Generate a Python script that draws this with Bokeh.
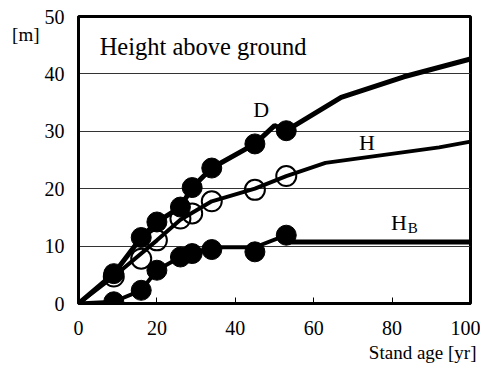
from bokeh.plotting import figure
from bokeh.models import Range1d, FixedTicker, Label, LinearAxis, Title
from bokeh.embed import file_html
from bokeh.resources import INLINE

# observed data
age = [9, 16, 20, 26, 29, 34, 45, 53]
D_obs = [5.2, 11.5, 14.2, 16.8, 20.2, 23.6, 27.8, 30.1]
H_obs = [4.7, 7.8, 11.0, 14.8, 15.7, 17.8, 19.8, 22.2]
HB_obs = [0.3, 2.3, 5.8, 8.1, 8.7, 9.4, 9.0, 11.9]

# curves
D_x = [0, 9, 16, 20, 26, 29, 34, 45, 50, 53, 67, 83, 100]
D_y = [0, 5.2, 11.5, 14.2, 16.8, 20.2, 23.6, 27.8, 31.0, 30.1, 35.9, 39.5, 42.6]
H_x = [0, 9, 20, 26, 34, 45, 53, 63, 92, 100]
H_y = [0, 4.7, 11.0, 14.6, 17.8, 20.0, 22.2, 24.5, 27.2, 28.2]
HB_x = [0, 9, 16, 20, 26, 29, 34, 45, 53]
HB_y = [0, 0.3, 2.3, 5.8, 8.1, 8.7, 9.8, 9.8, 11.9]
HBm_x = [53, 100]
HBm_y = [10.7, 10.7]

x_ticks = [0, 20, 40, 60, 80, 100]
y_ticks = [0, 10, 20, 30, 40, 50]

FONT = "'Liberation Serif'"

p = figure(width=480, height=368, output_backend="svg", toolbar_location=None,
           x_range=Range1d(0, 100), y_range=Range1d(0, 50),
           min_border_left=78, min_border_right=10, min_border_top=16, min_border_bottom=65)
p.background_fill_color = "white"
p.border_fill_color = "white"
p.outline_line_color = "black"
p.outline_line_width = 3

p.xaxis.ticker = FixedTicker(ticks=x_ticks)
p.yaxis.ticker = FixedTicker(ticks=y_ticks)
p.xaxis.axis_line_width = 3
p.yaxis.axis_line_width = 3
p.xaxis.axis_line_color = "black"
p.yaxis.axis_line_color = "black"
p.xaxis.major_label_text_font = FONT
p.yaxis.major_label_text_font = FONT
p.xaxis.major_label_text_font_size = "20px"
p.yaxis.major_label_text_font_size = "20px"
p.xaxis.major_label_text_color = "black"
p.yaxis.major_label_text_color = "black"
p.xaxis.minor_tick_line_color = None
p.yaxis.minor_tick_line_color = None
p.xaxis.major_tick_in = 6
p.xaxis.major_tick_out = 0
p.xaxis.major_tick_line_width = 1
p.xaxis.major_label_standoff = 17
p.yaxis.major_tick_in = 0
p.yaxis.major_tick_out = 0
p.yaxis.major_label_standoff = 14

# unit label "[m]" as a second, line-less left axis
unit_axis = LinearAxis(ticker=FixedTicker(ticks=[46.8]),
                       major_label_overrides={46.8: "[m]"},
                       axis_line_color=None, major_tick_line_color=None,
                       minor_tick_line_color=None,
                       major_tick_in=0, major_tick_out=0, major_label_standoff=2,
                       major_label_text_font=FONT, major_label_text_font_size="19px",
                       major_label_text_color="black")
p.add_layout(unit_axis, "left")

p.add_layout(Title(text="Stand age [yr]", align="right", text_font=FONT,
                   text_font_size="19px", text_font_style="normal",
                   text_color="black", offset=-6, standoff=4), "below")

p.xgrid.grid_line_color = None
p.ygrid.ticker = FixedTicker(ticks=[10, 20, 30, 40])
p.ygrid.grid_line_color = "#333333"
p.ygrid.grid_line_width = 1

p.line(D_x, D_y, line_color="black", line_width=5)
p.line(H_x, H_y, line_color="black", line_width=4)
p.line(HB_x, HB_y, line_color="black", line_width=4)
p.line(HBm_x, HBm_y, line_color="black", line_width=5)

p.scatter(age, H_obs, size=20, marker="circle", fill_color=None, line_color="black", line_width=2)
p.scatter(age, D_obs, size=20, marker="circle", fill_color="black", line_color="black")
p.scatter(age, HB_obs, size=20, marker="circle", fill_color="black", line_color="black")

def lab(x, y, t, size, align="left"):
    p.add_layout(Label(x=x, y=y, text=t, text_font=FONT, text_font_size=size,
                       text_align=align, text_baseline="alphabetic", text_color="black"))

lab(5.4, 44.8, "Height above ground", "24.5px")
lab(46.6, 33.8, "D", "22px", "center")
lab(73.6, 28.1, "H", "22px", "center")
lab(79.7, 14.1, "H", "22px")
lab(84.0, 13.1, "B", "15px")

open("out.html", "w").write(file_html(p, INLINE))
